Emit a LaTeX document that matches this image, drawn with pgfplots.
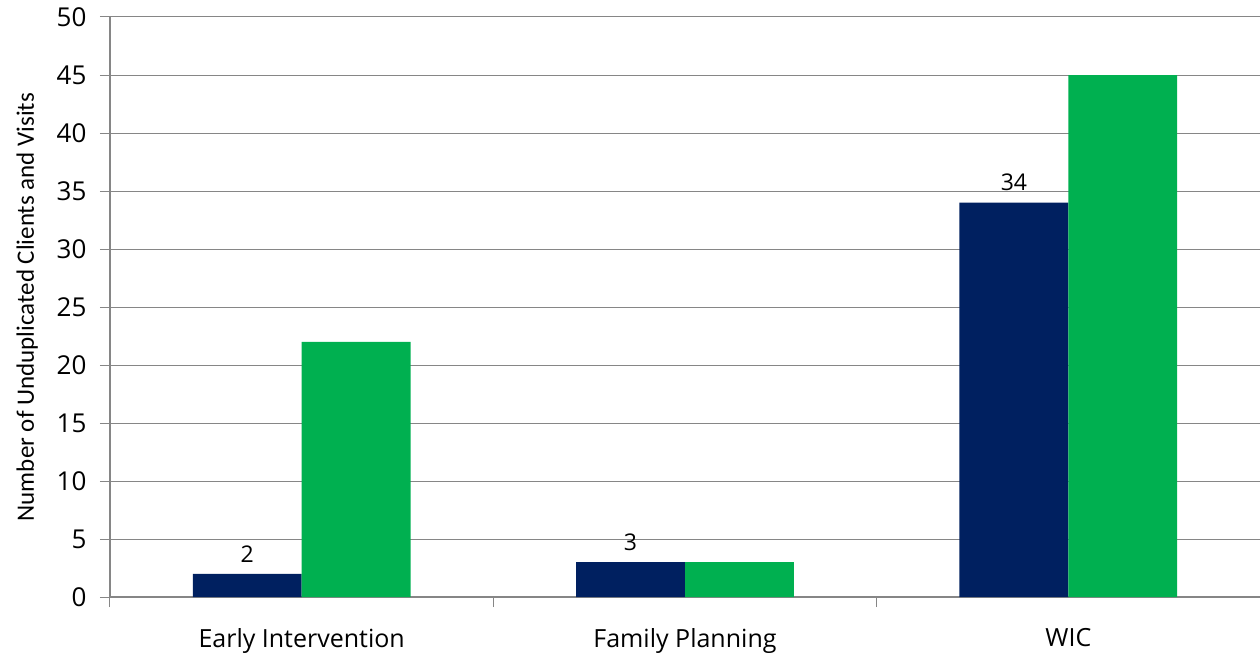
\documentclass[border=0pt]{standalone}
\usepackage{pgfplots}
\pgfplotsset{compat=1.18}
\usepackage{fontspec}
\setmainfont{Open Sans}
\newfontfamily\calibri{Carlito}
\definecolor{navy}{HTML}{002060}
\definecolor{green}{HTML}{00B050}
\definecolor{gridgray}{HTML}{868686}

\begin{document}
\begin{tikzpicture}
\path[use as bounding box] (-110pt,-59pt) rectangle (1150pt,597pt);
\begin{axis}[
    scale only axis,
    width=1150pt, height=580pt,
    ybar, bar width=0.284,
    xmin=-0.5, xmax=2.5,
    ymin=0, ymax=50,
    ytick={0,5,...,50},
    xtick={-0.5,0.5,1.5,2.5},
    xticklabels={},
    extra x ticks={0,1,2},
    extra x tick labels={Early Intervention, Family Planning, WIC},
    extra x tick style={major tick length=0pt, grid=none},
    axis x line*=bottom, axis y line*=left,
    axis line style={gridgray, line width=1.2pt},
    x axis line style={line width=2pt},
    tick align=outside, major tick length=10pt,
    tick style={gridgray, line width=1pt},
    ymajorgrids, grid style={gridgray, line width=1pt},
    /pgf/number format/assume math mode=true,
    ticklabel style={font=\fontsize{26}{30}\selectfont},
    yticklabel style={xshift=-10pt},
    xticklabel style={font=\fontsize{25}{29}\selectfont, yshift=-28pt},
    ylabel={\calibri Number of Unduplicated Clients and Visits},
    ylabel style={font=\fontsize{25}{29}\selectfont, yshift=12pt},
]
\addplot[fill=navy, draw=none, bar shift=-0.142,
    nodes near coords, nodes near coords style={font=\fontsize{23}{26}\selectfont, black, yshift=8pt}]
    coordinates {(0,2) (1,3) (2,34)};
\addplot[fill=green, draw=none, bar shift=0.142]
    coordinates {(0,22) (1,3) (2,45)};
\end{axis}
\end{tikzpicture}
\end{document}
